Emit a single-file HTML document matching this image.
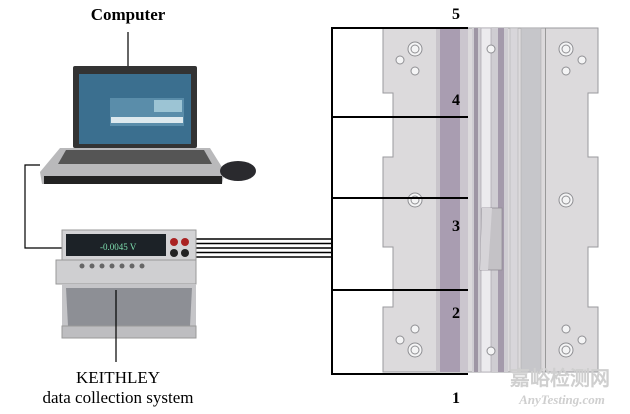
<!DOCTYPE html>
<html><head><meta charset="utf-8"><style>
html,body{margin:0;padding:0;background:#fff;}
svg{display:block;}
text{font-family:"Liberation Serif",serif;}
</style></head><body>
<svg width="630" height="414" viewBox="0 0 630 414" xmlns="http://www.w3.org/2000/svg">
<rect width="630" height="414" fill="#fff"/>
<!-- plate -->
<path d="M383,28 H598 V93 H588 V157 H598 V247 H588 V307 H598 V372 H383 V307 H393 V247 H383 V157 H393 V93 H383 Z" fill="#dcdadc" stroke="#9a9a9e" stroke-width="1"/>
<rect x="436" y="28" width="4" height="344" fill="#c9c5cb"/>
<rect x="440" y="28" width="20" height="344" fill="#a99db1"/>
<rect x="460" y="28" width="8" height="344" fill="#cbc6ce"/>
<rect x="472" y="28" width="36" height="344" fill="#cfcdd2"/>
<rect x="474" y="28" width="4" height="344" fill="#9e96a4"/>
<rect x="481" y="28" width="10" height="344" fill="#ecebee" stroke="#a9a6ad" stroke-width="0.7"/>
<rect x="498" y="28" width="6" height="344" fill="#a49aab"/>
<rect x="510" y="28" width="8" height="344" fill="#d8d6da" stroke="#aaa" stroke-width="0.5"/>
<rect x="521" y="28" width="20" height="344" fill="#c6c6ca" stroke="#aaa" stroke-width="0.5"/>
<rect x="545" y="28" width="1" height="344" fill="#999"/>
<path d="M482,208 H502 V270 H480 Z" fill="#c4c2c6" stroke="#8e8a92" stroke-width="0.7"/>
<path d="M482,208 H492 L490,240 L488,270 H480 Z" fill="#d6d4d8"/>
<g fill="#f4f4f5" stroke="#8f8f93" stroke-width="1">
<circle cx="415" cy="49" r="7"/><circle cx="415" cy="49" r="4"/>
<circle cx="400" cy="60" r="4"/><circle cx="415" cy="71" r="4"/>
<circle cx="566" cy="49" r="7"/><circle cx="566" cy="49" r="4"/>
<circle cx="582" cy="60" r="4"/><circle cx="566" cy="71" r="4"/>
<circle cx="415" cy="200" r="7"/><circle cx="415" cy="200" r="4"/>
<circle cx="566" cy="200" r="7"/><circle cx="566" cy="200" r="4"/>
<circle cx="415" cy="350" r="7"/><circle cx="415" cy="350" r="4"/>
<circle cx="400" cy="340" r="4"/><circle cx="415" cy="329" r="4"/>
<circle cx="566" cy="350" r="7"/><circle cx="566" cy="350" r="4"/>
<circle cx="582" cy="340" r="4"/><circle cx="566" cy="329" r="4"/>
<circle cx="491" cy="49" r="4"/><circle cx="491" cy="351" r="4"/>
</g>
<!-- box lines -->
<g stroke="#000" stroke-width="2" fill="none">
<path d="M468,28 H332 V374 H468"/>
<path d="M332,117 H468 M332,198 H468 M332,290 H468"/>
</g>
<g font-size="16" text-anchor="middle" font-weight="bold">
<text x="456" y="19">5</text><text x="456" y="105">4</text><text x="456" y="231">3</text><text x="456" y="318">2</text><text x="456" y="403">1</text>
</g>
<!-- wires -->
<g stroke="#000" stroke-width="1.6">
<line x1="196" y1="239" x2="332" y2="239"/><line x1="196" y1="243.5" x2="332" y2="243.5"/>
<line x1="196" y1="248" x2="332" y2="248"/><line x1="196" y1="252.5" x2="332" y2="252.5"/>
<line x1="196" y1="257" x2="332" y2="257"/>
</g>
<!-- computer -->
<text x="128" y="20" font-size="17" font-weight="bold" text-anchor="middle">Computer</text>
<line x1="128" y1="32" x2="128" y2="66" stroke="#000" stroke-width="1.2"/>
<rect x="73" y="66" width="124" height="82" rx="2" fill="#333"/>
<rect x="79" y="74" width="112" height="70" fill="#3b6f8f"/>
<rect x="110" y="98" width="74" height="28" fill="#5a8daa"/>
<rect x="154" y="100" width="28" height="12" fill="#9cc4d4"/>
<rect x="111" y="117" width="72" height="6" fill="#dde9ee"/>
<path d="M60,148 H210 L225,172 L222,184 H42 L40,172 Z" fill="#b9b9bb"/>
<path d="M66,150 H204 L212,164 H58 Z" fill="#555"/>
<path d="M44,176 H222 V184 H44 Z" fill="#222"/>
<ellipse cx="238" cy="171" rx="18" ry="10" fill="#2a2a2e"/>
<path d="M40,165 H25 V248 H62" stroke="#000" stroke-width="1.2" fill="none"/>
<!-- keithley -->
<rect x="62" y="230" width="134" height="30" fill="#d3d3d5" stroke="#999"/>
<rect x="66" y="234" width="100" height="22" fill="#1c2227"/>
<text x="100" y="250" font-size="9" fill="#7fe0b0">-0.0045 V</text>
<circle cx="174" cy="242" r="4" fill="#a22"/><circle cx="185" cy="242" r="4" fill="#a22"/>
<circle cx="174" cy="253" r="4" fill="#222"/><circle cx="185" cy="253" r="4" fill="#222"/>
<rect x="56" y="260" width="140" height="24" fill="#cfcfd1" stroke="#999"/>
<g fill="#666"><circle cx="82" cy="266" r="2.5"/><circle cx="92" cy="266" r="2.5"/><circle cx="102" cy="266" r="2.5"/><circle cx="112" cy="266" r="2.5"/><circle cx="122" cy="266" r="2.5"/><circle cx="132" cy="266" r="2.5"/><circle cx="142" cy="266" r="2.5"/></g>
<path d="M62,284 H196 V338 H62 Z" fill="#c5c5c8"/>
<path d="M66,288 H192 L190,326 H68 Z" fill="#8d8f95"/>
<rect x="62" y="326" width="134" height="12" fill="#bdbdc0" stroke="#999"/>
<line x1="116" y1="290" x2="116" y2="362" stroke="#000" stroke-width="1.2"/>
<text x="118" y="383" font-size="17" text-anchor="middle">KEITHLEY</text>
<text x="118" y="403" font-size="17" text-anchor="middle">data collection system</text>
<!-- watermark -->
<text x="560" y="385" font-size="20" fill="#cfcfcf" text-anchor="middle" font-family="Noto Sans CJK SC, sans-serif" font-weight="bold">嘉峪检测网</text>
<text x="562" y="404" font-size="13" fill="#cfcfcf" text-anchor="middle" font-style="italic" font-weight="bold" font-family="Liberation Sans, sans-serif">AnyTesting.com</text>
</svg>
</body></html>
